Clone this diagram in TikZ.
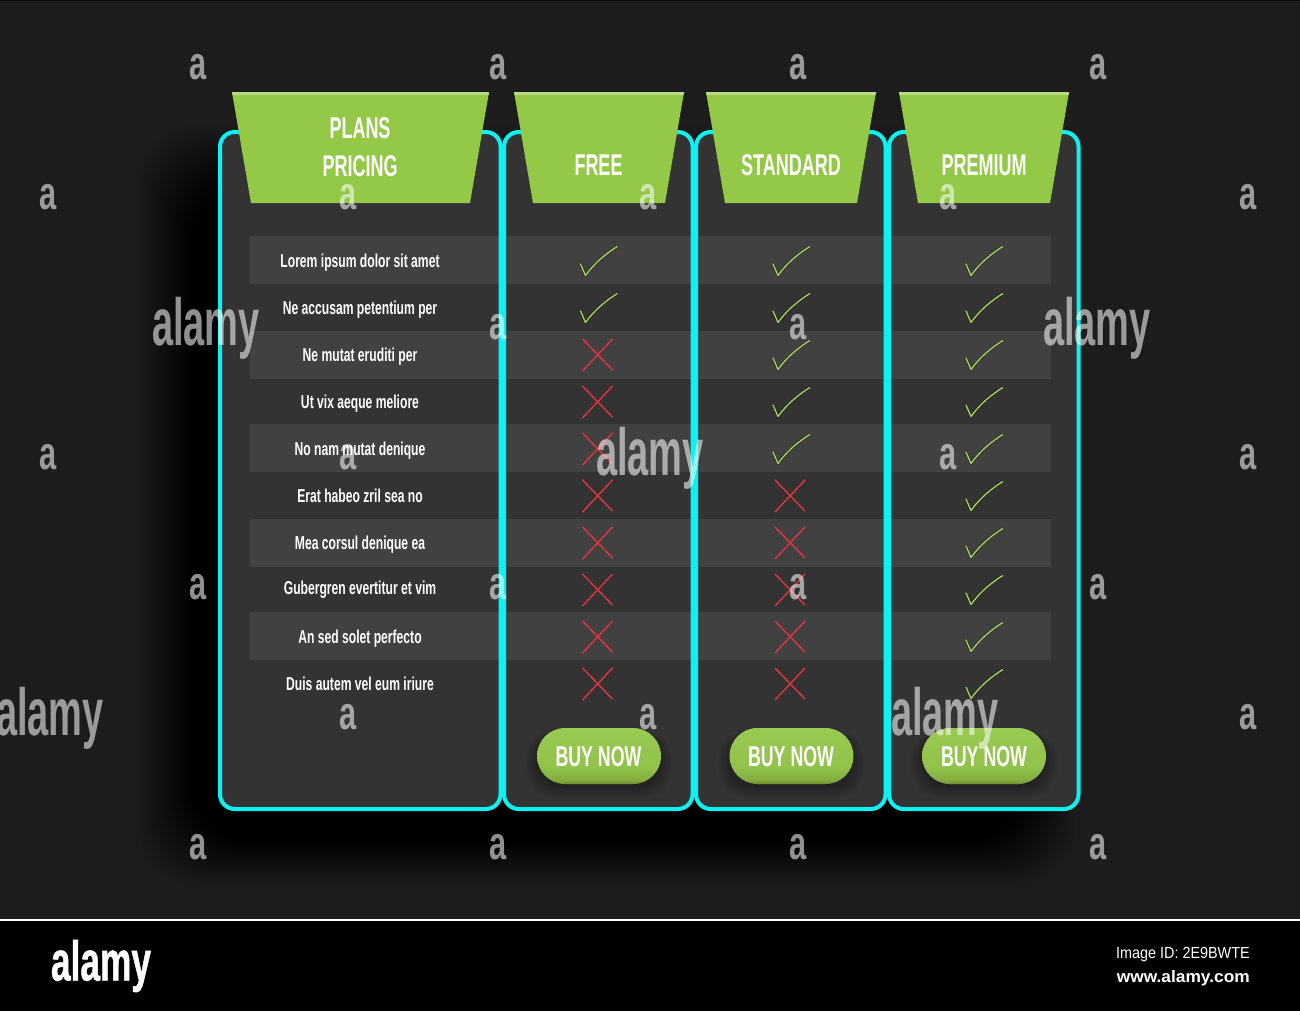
\documentclass[tikz,border=0pt]{standalone}
\usepackage{fontspec}
\setmainfont{Liberation Sans}
\newfontfamily\rowfont[FakeStretch=0.65]{Liberation Sans}
\newfontfamily\headfont[FakeStretch=0.60]{Liberation Sans}
\newfontfamily\btnfont[FakeStretch=0.62]{Liberation Sans}
\newfontfamily\smallmark[FakeStretch=0.66]{Liberation Sans}
\newfontfamily\bigmark[FakeStretch=0.57]{Liberation Sans}
\newfontfamily\logofont[FakeStretch=0.63,FakeBold=0.8]{Liberation Sans}
\newfontfamily\tinyfont[FakeStretch=0.90]{Liberation Sans}
\newfontfamily\sitefont[FakeStretch=1.04]{Liberation Sans}
\definecolor{bgc}{HTML}{1C1C1C}
\definecolor{panelc}{HTML}{333333}
\definecolor{stripec}{HTML}{414141}
\definecolor{cyanc}{HTML}{0CF2F2}
\definecolor{greenc}{HTML}{93C947}
\definecolor{greenl}{HTML}{B7DC83}
\definecolor{checkc}{HTML}{A5D55A}
\definecolor{crossc}{HTML}{E8343C}
\pgfdeclareverticalshading{btnshade}{100bp}{
  rgb(0bp)=(0.42,0.56,0.20);
  rgb(25bp)=(0.42,0.56,0.20);
  rgb(29bp)=(0.52,0.68,0.25);
  rgb(40bp)=(0.57,0.76,0.29);
  rgb(75bp)=(0.60,0.79,0.32);
  rgb(100bp)=(0.60,0.79,0.32)}
\tikzset{
  x=0.75pt,y=-0.75pt,
  panelfill/.style={fill=panelc,rounded corners=11pt},
  paneledge/.style={draw=cyanc,line width=3pt,rounded corners=11pt},
  stripe/.style={fill=stripec},
  headshape/.style={fill=greenc},
  headtop/.style={fill=greenl},
  headtext/.style={text=white,font=\headfont\bfseries\fontsize{22.5}{22.5}\selectfont,inner sep=0pt,anchor=base},
  rowtext/.style={text=white,font=\rowfont\bfseries\fontsize{14}{14}\selectfont,inner sep=0pt,anchor=base},
  checkshadow/.style={draw=black,draw opacity=0.35,line width=1.9pt,line cap=round,line join=round},
  checkmark/.style={draw=checkc,line width=1pt,line cap=round,line join=round},
  crossmark/.style={draw=crossc,line width=1.0pt,line cap=round},
  btn/.style={rounded corners=21pt,shading=btnshade},
  btntext/.style={text=white,font=\btnfont\bfseries\fontsize{21.5}{21.5}\selectfont,inner sep=0pt,anchor=base},
  wmsmall/.style={text=white,text opacity=0.56,font=\smallmark\bfseries\fontsize{35}{35}\selectfont,inner sep=0pt,anchor=base},
  wmbig/.style={text=white,text opacity=0.56,font=\bigmark\bfseries\fontsize{50}{50}\selectfont,inner sep=0pt,anchor=base},
}
\newcommand{\chk}[2]{%
  \path[checkshadow] (#1-18,#2+3) -- (#1-13,#2+14.5) .. controls (#1-4,#2+2) and (#1+7,#2-7) .. (#1+18.5,#2-14.3);
  \path[checkmark] (#1-18,#2+3) -- (#1-13,#2+14.5) .. controls (#1-4,#2+2) and (#1+7,#2-7) .. (#1+18.5,#2-14.3);}
\newcommand{\crs}[2]{\draw[crossmark] (#1-15,#2-16) -- (#1+15,#2+15) (#1+15,#2-16) -- (#1-15,#2+16);}
\begin{document}
\begin{tikzpicture}
\useasboundingbox (0,0) rectangle (1300,1011);
% background
\fill[bgc] (0,0) rectangle (1300,920);
\fill[black,opacity=0.5] (0,0) rectangle (1300,1);
% soft shadow of the table: thrown to the left and downwards
\foreach \i in {1,...,45}{
  \fill[black,opacity=0.026,rounded corners=45pt]
    ({228-\i*2},{225-\i*2.2}) rectangle ({990+\i*1.9},{812+\i*1.6});
}
% footer
\fill[black] (0,920) rectangle (1300,1011);
\fill[white] (0,918.5) rectangle (1300,920.5);
% panels
\foreach \a/\b in {220/500.5,504/692.5,696/885.5,889/1078.5}{
  \path[panelfill] (\a,132) rectangle (\b,809);
}
% stripes
\foreach \y in {236,331,424,519,612}{
  \fill[stripe] (250,\y) rectangle (1051,\y+48);
}
% panel outlines
\foreach \a/\b in {220/500.5,504/692.5,696/885.5,889/1078.5}{
  \path[paneledge] (\a,132) rectangle (\b,809);
}
% header shapes
\foreach \a/\b/\c/\d in {232/489/470/251,514/684/665/533,706/876/857/725,899/1069/1050/918}{
  \fill[headshape] (\a,92) -- (\b,92) -- (\c,203) -- (\d,203) -- cycle;
  \fill[headtop] (\a,92) -- (\b,92) -- (\b-0.5,95) -- (\a+0.5,95) -- cycle;
}
\node[headtext] (hplans) at (360,138) {PLANS};
\node[headtext] (hpricing) at (360,176) {PRICING};
\node[headtext] (hfree) at (598.5,175) {FREE};
\node[headtext] (hstandard) at (791,175) {STANDARD};
\node[headtext] (hpremium) at (984,175) {PREMIUM};
% row labels
\node[rowtext] (r1) at (360,267) {Lorem ipsum dolor sit amet};
\node[rowtext] (r2) at (360,314) {Ne accusam petentium per};
\node[rowtext] (r3) at (360,361) {Ne mutat eruditi per};
\node[rowtext] (r4) at (360,408) {Ut vix aeque meliore};
\node[rowtext] (r5) at (360,455) {No nam mutat denique};
\node[rowtext] (r6) at (360,502) {Erat habeo zril sea no};
\node[rowtext] (r7) at (360,549) {Mea corsul denique ea};
\node[rowtext] (r8) at (360,594) {Gubergren evertitur et vim};
\node[rowtext] (r9) at (360,643) {An sed solet perfecto};
\node[rowtext] (r10) at (360,690) {Duis autem vel eum iriure};
% marks
\foreach \y in {261,308}{\chk{598.5}{\y}}
\foreach \y in {355,402,449,496,543,590,637,684}{\crs{597.5}{\y}}
\foreach \y in {261,308,355,402,449}{\chk{791}{\y}}
\foreach \y in {496,543,590,637,684}{\crs{790}{\y}}
\foreach \y in {261,308,355,402,449,496,543,590,637,684}{\chk{984}{\y}}
% buttons
\foreach \x in {599,791.5,984}{
  \foreach \i in {1,...,8}{
    \fill[black,opacity=0.03,rounded corners=21pt]
      ({\x-62-\i*1.4},{734-\i*0.4}) rectangle ({\x+62+\i*1.4},{786+\i*1.5});
  }
  \path[btn] (\x-62,728) rectangle (\x+62,784);
}
\node[btntext] (b1) at (598.5,766) {BUY NOW};
\node[btntext] (b2) at (791,766) {BUY NOW};
\node[btntext] (b3) at (984,766) {BUY NOW};
% watermarks
\foreach \n/\x/\y in {a1/198.5/67,a2/498.5/67,a3/798.5/67,a4/1098.5/67,
  b1/48.5/197,b2/348.5/197,b3/648.5/197,b4/948.5/197,b5/1248.5/197,
  c1/498.5/327,c2/798.5/327,
  d1/48.5/457,d2/348.5/457,d3/948.5/457,d4/1248.5/457,
  e1/198.5/587,e2/498.5/587,e3/798.5/587,e4/1098.5/587,
  f1/348.5/717,f2/648.5/717,f3/1248.5/717,
  g1/198.5/847,g2/498.5/847,g3/798.5/847,g4/1098.5/847}{
  \node[wmsmall] (wm\n) at (\x,\y+12) {a};
}
\node[wmbig] (big1) at (206,345) {alamy};
\node[wmbig] (big2) at (1097,345) {alamy};
\node[wmbig] (big3) at (650,475) {alamy};
\node[wmbig] (big4) at (50,735) {alamy};
\node[wmbig] (big5) at (945,735) {alamy};
% footer text
\node[text=white,font=\logofont\bfseries\fontsize{42}{42}\selectfont,inner sep=0pt,anchor=base] (logo) at (101,980.5) {alamy};
\node[text=white,font=\tinyfont\fontsize{12}{12}\selectfont,inner sep=0pt,anchor=base east] (imgid) at (1250,958) {Image ID: 2E9BWTE};
\node[text=white,font=\sitefont\bfseries\fontsize{12.5}{12.5}\selectfont,inner sep=0pt,anchor=base east] (site) at (1250,982) {www.alamy.com};
\end{tikzpicture}
\end{document}
